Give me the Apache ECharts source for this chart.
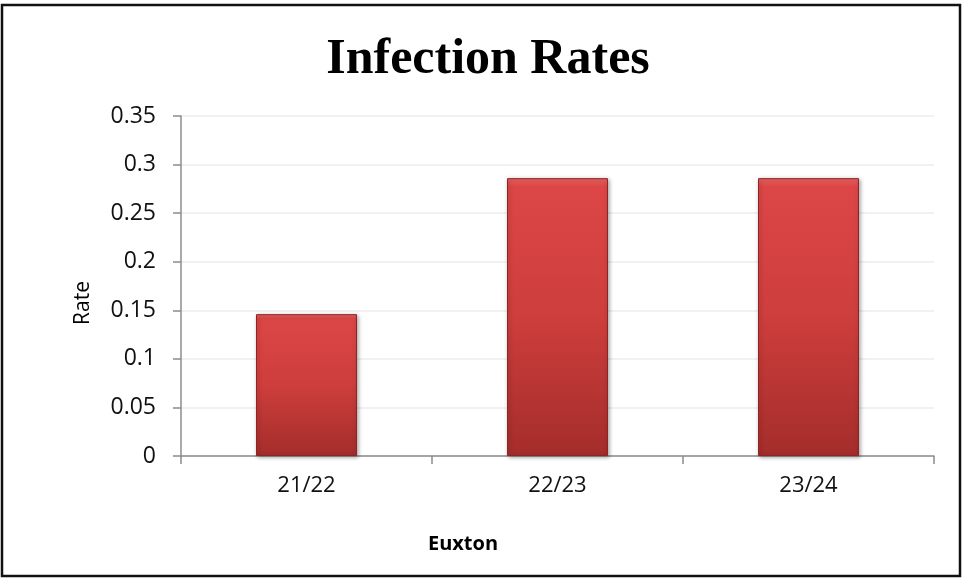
<!DOCTYPE html>
<html>
<head>
<meta charset="utf-8">
<script src="https://cdn.jsdelivr.net/npm/echarts@6/dist/echarts.min.js"></script>
<style>
  html, body { margin: 0; padding: 0; background: #fff; }
  #chart { width: 963px; height: 578px; }
</style>
</head>
<body>
<div id="chart"></div>
<script>
// Infection rate per season for Euxton
const seasons = ['21/22', '22/23', '23/24'];
const rates = [0.146, 0.286, 0.286];
const yTicks = { min: 0, max: 0.35, interval: 0.05 };

const chart = echarts.init(document.getElementById('chart'));

const labelFont = '"Open Sans", "Liberation Sans", sans-serif';

chart.setOption({
  backgroundColor: '#ffffff',
  animation: false,
  title: {
    text: 'Infection Rates',
    left: 483,
    top: 30,
    textAlign: 'center',
    textStyle: {
      fontFamily: '"Liberation Serif", "DejaVu Serif", serif',
      fontWeight: 'bold',
      fontSize: 50,
      color: '#000'
    }
  },
  graphic: [
    {
      type: 'rect',
      shape: { x: 2, y: 5, width: 958, height: 571 },
      style: { fill: 'none', stroke: '#111', lineWidth: 2.5 },
      silent: true
    },
    {
      // x-axis title
      type: 'text',
      x: 463,
      y: 544,
      style: {
        text: 'Euxton',
        fontFamily: labelFont,
        fontWeight: 'bold',
        fontSize: 20,
        fill: '#000',
        textAlign: 'center',
        textVerticalAlign: 'middle'
      }
    },
    {
      // y-axis title
      type: 'text',
      x: 83,
      y: 303,
      rotation: Math.PI / 2,
      style: {
        text: 'Rate',
        fontFamily: labelFont,
        fontSize: 21,
        fill: '#000',
        textAlign: 'center',
        textVerticalAlign: 'middle'
      }
    }
  ],
  grid: { left: 181, right: 29, top: 116, bottom: 122 },
  xAxis: {
    type: 'category',
    data: seasons,
    axisLine: { lineStyle: { color: '#8c8c8c', width: 1.5 } },
    axisTick: { show: true, alignWithLabel: false, length: 8, lineStyle: { color: '#8c8c8c', width: 1.5 } },
    axisLabel: { color: '#111', fontSize: 22, fontFamily: labelFont, margin: 19 }
  },
  yAxis: {
    type: 'value',
    min: yTicks.min,
    max: yTicks.max,
    interval: yTicks.interval,
    axisLine: { show: true, lineStyle: { color: '#8c8c8c', width: 1.5 } },
    axisTick: { show: true, length: 8, lineStyle: { color: '#8c8c8c', width: 1.5 } },
    axisLabel: { color: '#111', fontSize: 23, fontFamily: labelFont, margin: 25 },
    splitLine: { lineStyle: { color: '#ececec', width: 1.5 } }
  },
  series: [
    {
      type: 'bar',
      data: rates,
      barWidth: 101,
      itemStyle: {
        color: new echarts.graphic.LinearGradient(0, 0, 0, 1, [
          { offset: 0, color: '#ec6464' },
          { offset: 0.03, color: '#dc4646' },
          { offset: 0.5, color: '#cd3e3c' },
          { offset: 1, color: '#a42d2b' }
        ]),
        borderColor: '#8f2422',
        borderWidth: 1,
        shadowColor: 'rgba(0,0,0,0.35)',
        shadowBlur: 4,
        shadowOffsetX: 1,
        shadowOffsetY: 1
      }
    }
  ]
});
</script>
</body>
</html>
